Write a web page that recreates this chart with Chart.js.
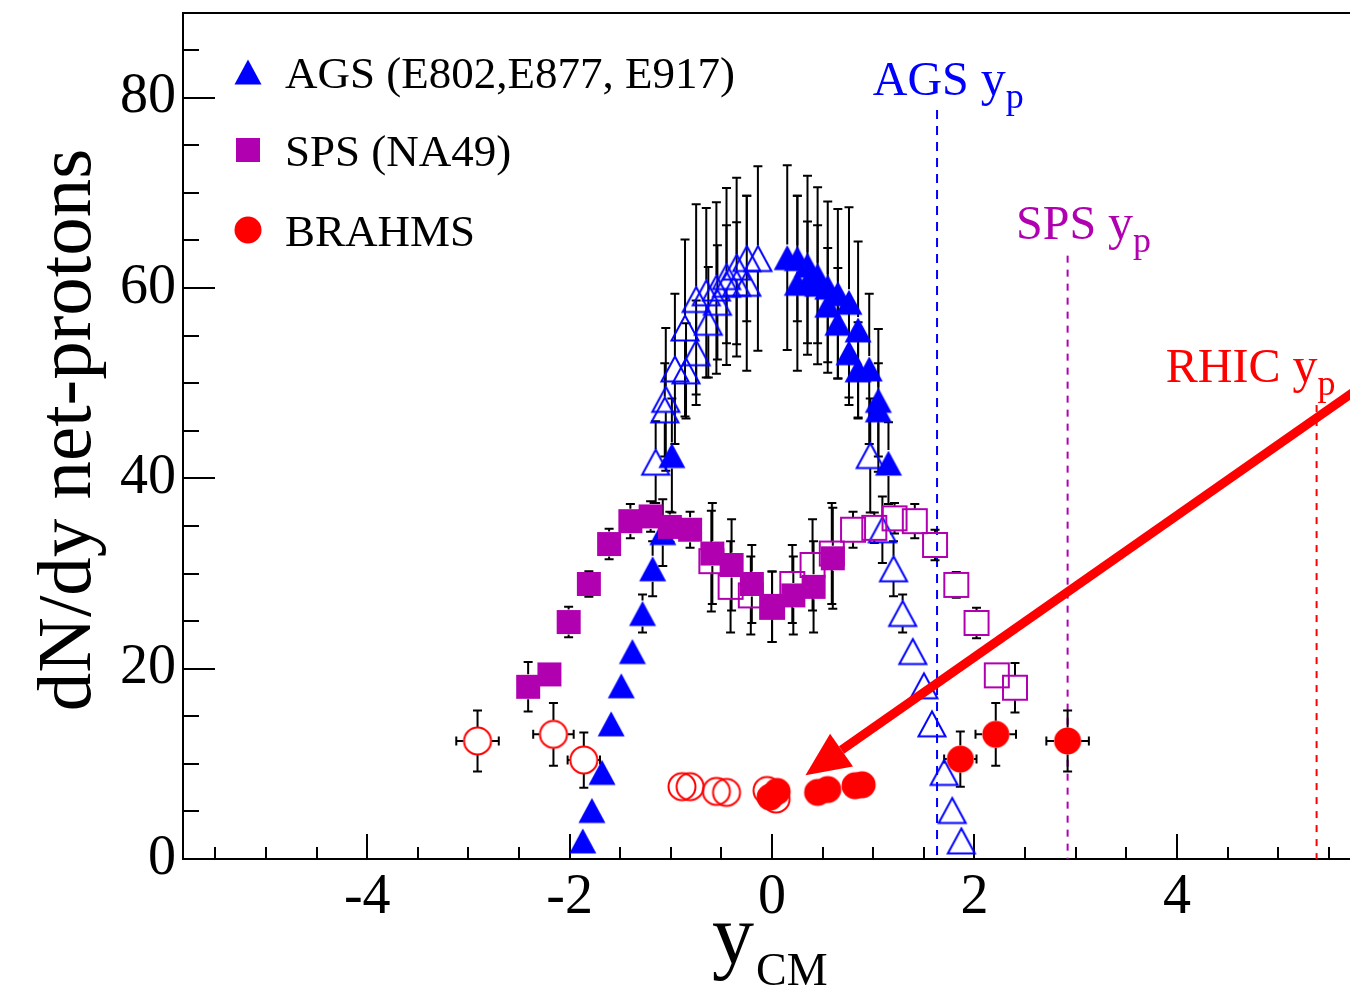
<!DOCTYPE html>
<html>
<head>
<meta charset="utf-8">
<script src="https://cdn.jsdelivr.net/npm/chart.js@4.4.0/dist/chart.umd.min.js"></script>
<style>
  body { margin: 0; background: #fff; }
</style>
</head>
<body>
<canvas id="netProtonChart" width="1350" height="989"></canvas>
<script>
// net-proton rapidity distributions, measured (filled) and reflected about y_CM = 0 (open)
const agsX = [-1.87, -1.78, -1.68, -1.59, -1.49, -1.38, -1.28, -1.18, -1.08, -0.99,
  0.15, 0.25, 0.25, 0.35, 0.35, 0.45, 0.45, 0.55, 0.55, 0.65, 0.65, 0.76, 0.76, 0.85, 0.85, 0.96, 1.05, 1.05, 1.15];
const agsY = [1.9, 5.1, 9.1, 14.2, 18.2, 21.8, 25.8, 30.5, 34.3, 42.4,
  63.2, 63.1, 60.5, 62.4, 60.6, 61.3, 60.4, 60.1, 58.2, 59.4, 56.3, 58.5, 53.2, 55.6, 51.4, 51.5, 48.2, 47.2, 41.6];
const agsErr = [0, 0, 0, 0, 0, 0, 2.0, 2.9, 3.5, 6.0,
  9.7, 6.6, 9.2, 9.4, 6.4, 9.3, 6.2, 9.0, 6.0, 8.9, 5.8, 10.0, 5.5, 9.3, 5.0, 7.9, 7.5, 4.9, 4.3];

const agsReflX = [1.87, 1.78, 1.70, 1.58, 1.50, 1.39, 1.29, 1.20, 1.09, 0.97,
  -0.14, -0.25, -0.25, -0.35, -0.35, -0.45, -0.45, -0.55, -0.54, -0.65, -0.63, -0.75, -0.75, -0.86, -0.85, -0.96, -1.05, -1.06, -1.15];
const agsReflY = [1.9, 5.1, 9.1, 14.2, 18.2, 21.8, 25.8, 30.5, 34.6, 42.4,
  63.1, 63.1, 60.5, 62.2, 60.5, 61.2, 60.4, 60.0, 58.5, 59.5, 56.4, 58.8, 53.2, 55.8, 51.3, 51.5, 48.3, 47.2, 41.7];
const agsReflErr = agsErr;

const spsX = [-2.41, -2.20, -2.01, -1.81, -1.61, -1.40, -1.20, -1.01, -0.81, -0.59, -0.40, -0.20, 0.00, 0.21, 0.41, 0.60];
const spsY = [18.1, 19.4, 24.9, 28.9, 33.1, 35.5, 36.0, 34.9, 34.6, 32.1, 30.9, 28.9, 26.5, 27.7, 28.6, 31.6];
const spsErr = [2.6, 0.8, 1.6, 1.35, 1.6, 1.8, 1.6, 1.6, 1.9, 5.3, 4.8, 4.1, 3.7, 4.1, 4.8, 5.3];

const spsReflX = [2.40, 2.22, 2.02, 1.82, 1.61, 1.41, 1.21, 1.01, 0.80, 0.59, 0.40, 0.20, 0.00, -0.21, -0.41, -0.60];
const spsReflY = [18.0, 19.3, 24.8, 28.8, 33.0, 35.5, 35.8, 34.8, 34.6, 32.1, 30.9, 28.9, 26.5, 27.7, 28.6, 31.3];
const spsReflErr = spsErr;

const brahmsX = [-0.02, 0.05, 0.45, 0.55, 0.82, 0.89, 1.86, 2.21, 2.92];
const brahmsY = [6.5, 7.1, 7.0, 7.3, 7.7, 7.8, 10.5, 13.1, 12.4];
const brahmsErrY = [0, 0, 0, 0, 0, 0, 2.9, 3.3, 3.2];
const brahmsErrX = [0, 0, 0, 0, 0, 0, 0.16, 0.20, 0.21];

const brahmsReflX = [0.04, -0.05, -0.45, -0.55, -0.81, -0.89, -1.86, -2.16, -2.91];
const brahmsReflY = [6.3, 7.2, 7.0, 7.1, 7.6, 7.6, 10.4, 13.1, 12.4];
const brahmsReflErrY = brahmsErrY;
const brahmsReflErrX = brahmsErrX;

// beam rapidities
const beamNames = ['AGS', 'SPS', 'RHIC'];
const beamRapidity = [1.63, 2.92, 5.38];

const legendNames = ['AGS (E802,E877, E917)', 'SPS (NA49)', 'BRAHMS'];
const xTickValues = [-4, -2, 0, 2, 4];
const yTickValues = [0, 20, 40, 60, 80];

const BLUE = '#0000ff', PURPLE = '#b000b0', RED = '#ff0000';
const FONT = "'Liberation Serif', 'Times New Roman', serif";

// dashed y_p markers and their labels (label anchor in axis units)
const beamStyle = [
  { color: BLUE, dash: [9, 7], top: 78.7, labelX: 0.995, labelY: 80.3 },
  { color: PURPLE, dash: [7, 7], top: 63.4, labelX: 2.41, labelY: 65.15 },
  { color: RED, dash: [7, 7], top: 47.7, labelX: 3.89, labelY: 50.1 }
];

function makeMarker(shape, color, filled) {
  const c = document.createElement('canvas');
  c.width = 34; c.height = 34;
  const g = c.getContext('2d');
  const m = 17;
  g.beginPath();
  if (shape === 'triangle') {
    g.moveTo(m, m - 12.5);
    g.lineTo(m + 13.5, m + 12.5);
    g.lineTo(m - 13.5, m + 12.5);
    g.closePath();
  } else if (shape === 'square') {
    g.rect(m - 12, m - 12, 24, 24);
  } else {
    g.arc(m, m, 13.5, 0, Math.PI * 2);
  }
  if (filled) {
    g.fillStyle = color;
    g.fill();
  } else {
    g.strokeStyle = color;
    g.lineWidth = 2;
    g.stroke();
  }
  return c;
}

function series(xs, ys) {
  return xs.map((v, i) => ({ x: v, y: ys[i] }));
}

const markers = {
  agsFilled: makeMarker('triangle', BLUE, true),
  agsOpen: makeMarker('triangle', BLUE, false),
  spsFilled: makeMarker('square', PURPLE, true),
  spsOpen: makeMarker('square', PURPLE, false),
  brahmsFilled: makeMarker('circle', RED, true),
  brahmsOpen: makeMarker('circle', RED, false)
};

// error bars stop at the marker edge, with small caps at the ends
const errorBars = {
  id: 'errorBars',
  beforeDatasetsDraw(chart) {
    const { ctx, chartArea: a, scales: { x, y } } = chart;
    ctx.save();
    ctx.beginPath();
    ctx.rect(a.left, a.top, a.right - a.left, a.bottom - a.top);
    ctx.clip();
    ctx.strokeStyle = '#000';
    ctx.lineWidth = 2;
    const cap = 4.5;
    chart.data.datasets.forEach(ds => {
      const gap = ds.gap;
      ds.data.forEach((p, i) => {
        const px = x.getPixelForValue(p.x);
        const py = y.getPixelForValue(p.y);
        const ey = ds.errY ? ds.errY[i] : 0;
        const ex = ds.errX ? ds.errX[i] : 0;
        ctx.beginPath();
        if (ey > 0) {
          const len = py - y.getPixelForValue(p.y + ey);
          [-1, 1].forEach(s => {
            const end = py + s * len;
            if (len > gap) {
              ctx.moveTo(px, py + s * gap);
              ctx.lineTo(px, end);
            }
            if (len >= gap - 1) {
              ctx.moveTo(px - cap, end);
              ctx.lineTo(px + cap, end);
            }
          });
        }
        if (ex > 0) {
          const len = x.getPixelForValue(p.x + ex) - px;
          [-1, 1].forEach(s => {
            const end = px + s * len;
            if (len > gap) {
              ctx.moveTo(px + s * gap, py);
              ctx.lineTo(end, py);
            }
            if (len >= gap - 1) {
              ctx.moveTo(end, py - cap);
              ctx.lineTo(end, py + cap);
            }
          });
        }
        ctx.stroke();
      });
    });
    ctx.restore();
  }
};

// frame top, inward ticks and the beam rapidity lines
const frameAndLines = {
  id: 'frameAndLines',
  beforeDatasetsDraw(chart) {
    const { ctx, chartArea: a, scales: { x, y } } = chart;
    ctx.save();
    ctx.strokeStyle = '#000';
    ctx.lineWidth = 2;
    ctx.beginPath();
    ctx.moveTo(a.left, a.top);
    ctx.lineTo(a.right, a.top);
    for (let k = -11; k <= 11; k++) {
      const v = k * 0.5;
      if (v <= x.min || v >= x.max) continue;
      const px = Math.round(x.getPixelForValue(v));
      const len = k % 4 === 0 ? 25 : 12;
      ctx.moveTo(px, a.bottom);
      ctx.lineTo(px, a.bottom - len);
    }
    for (let k = 1; k * 5 < y.max; k++) {
      const py = Math.round(y.getPixelForValue(k * 5));
      const len = k % 4 === 0 ? 32 : 16;
      ctx.moveTo(a.left, py);
      ctx.lineTo(a.left + len, py);
    }
    ctx.stroke();

    beamRapidity.forEach((v, i) => {
      const st = beamStyle[i];
      const px = x.getPixelForValue(v);
      ctx.beginPath();
      ctx.setLineDash(st.dash);
      ctx.strokeStyle = st.color;
      ctx.lineWidth = 2;
      ctx.moveTo(px, y.getPixelForValue(st.top));
      ctx.lineTo(px, y.getPixelForValue(0));
      ctx.stroke();
    });
    ctx.restore();
  }
};

// legend, labels, axis titles and the arrow
const overlay = {
  id: 'overlay',
  afterDraw(chart) {
    const { ctx, scales: { x, y } } = chart;
    ctx.save();

    const legendMarkers = [markers.agsFilled, markers.spsFilled, markers.brahmsFilled];
    const rows = [72, 150, 230];
    ctx.fillStyle = '#000';
    ctx.font = '45px ' + FONT;
    ctx.textBaseline = 'alphabetic';
    legendNames.forEach((name, i) => {
      const mk = legendMarkers[i];
      ctx.drawImage(mk, 248 - mk.width / 2, rows[i] - mk.height / 2);
      ctx.fillText(name, 285, rows[i] + 16);
    });

    beamNames.forEach((name, i) => {
      const st = beamStyle[i];
      let px = x.getPixelForValue(st.labelX);
      const py = y.getPixelForValue(st.labelY);
      ctx.fillStyle = st.color;
      ctx.font = '48px ' + FONT;
      ctx.fillText(name + ' ', px, py);
      px += ctx.measureText(name + ' ').width;
      ctx.font = '50px ' + FONT;
      ctx.fillText('y', px, py);
      px += ctx.measureText('y').width;
      ctx.font = '36px ' + FONT;
      ctx.fillText('p', px, py + 13);
    });

    // axis titles
    ctx.fillStyle = '#000';
    ctx.font = '84px ' + FONT;
    ctx.fillText('y', 712, 963);
    const yw = ctx.measureText('y').width;
    ctx.font = '46px ' + FONT;
    ctx.fillText('CM', 714 + yw, 985);

    ctx.save();
    ctx.translate(90, 430);
    ctx.rotate(-Math.PI / 2);
    ctx.textAlign = 'center';
    ctx.font = '77px ' + FONT;
    ctx.fillText('dN/dy net-protons', 0, 0);
    ctx.restore();

    // arrow pointing at the BRAHMS mid-rapidity points
    const x0 = x.getPixelForValue(5.75), y0 = y.getPixelForValue(49.1);
    const x1 = x.getPixelForValue(0.33), y1 = y.getPixelForValue(8.8);
    const ang = Math.atan2(y1 - y0, x1 - x0);
    const headLen = 44, headHalf = 20;
    const bx = x1 - headLen * Math.cos(ang), by = y1 - headLen * Math.sin(ang);
    ctx.strokeStyle = RED;
    ctx.fillStyle = RED;
    ctx.lineWidth = 9;
    ctx.beginPath();
    ctx.moveTo(x0, y0);
    ctx.lineTo(bx, by);
    ctx.stroke();
    ctx.beginPath();
    ctx.moveTo(x1, y1);
    ctx.lineTo(bx + headHalf * Math.sin(ang), by - headHalf * Math.cos(ang));
    ctx.lineTo(bx - headHalf * Math.sin(ang), by + headHalf * Math.cos(ang));
    ctx.closePath();
    ctx.fill();

    ctx.restore();
  }
};

const ctx = document.getElementById('netProtonChart').getContext('2d');
new Chart(ctx, {
  type: 'scatter',
  data: {
    datasets: [
      { label: 'BRAHMS', data: series(brahmsX, brahmsY), pointStyle: markers.brahmsFilled,
        errY: brahmsErrY, errX: brahmsErrX, gap: 13.5, order: 0 },
      { label: 'SPS (NA49)', data: series(spsX, spsY), pointStyle: markers.spsFilled,
        errY: spsErr, gap: 12.5, order: 1 },
      { label: 'SPS reflected', data: series(spsReflX, spsReflY), pointStyle: markers.spsOpen,
        errY: spsReflErr, gap: 12.5, order: 2 },
      { label: 'AGS', data: series(agsX, agsY), pointStyle: markers.agsFilled,
        errY: agsErr, gap: 13, order: 3 },
      { label: 'AGS reflected', data: series(agsReflX, agsReflY), pointStyle: markers.agsOpen,
        errY: agsReflErr, gap: 13, order: 4 },
      { label: 'BRAHMS reflected', data: series(brahmsReflX, brahmsReflY), pointStyle: markers.brahmsOpen,
        errY: brahmsReflErrY, errX: brahmsReflErrX, gap: 14, order: 5 }
    ]
  },
  options: {
    responsive: false,
    animation: false,
    events: [],
    layout: { autoPadding: false, padding: { top: 13, right: 0, bottom: 0, left: 0 } },
    elements: { point: { radius: 14, borderWidth: 0 } },
    plugins: { legend: { display: false }, tooltip: { enabled: false } },
    scales: {
      x: {
        type: 'linear',
        min: -5.82,
        max: 5.71,
        afterBuildTicks: s => { s.ticks = xTickValues.map(v => ({ value: v })); },
        afterFit: s => { s.height = 130; s.paddingLeft = 0; s.paddingRight = 0; },
        grid: { display: false, drawTicks: false },
        border: { display: true, color: '#000', width: 2 },
        ticks: { color: '#000', font: { family: FONT, size: 56 }, padding: 6, maxRotation: 0, autoSkip: false }
      },
      y: {
        type: 'linear',
        min: 0,
        max: 88.9,
        afterBuildTicks: s => { s.ticks = yTickValues.map(v => ({ value: v })); },
        afterFit: s => { s.width = 183; s.paddingTop = 0; s.paddingBottom = 0; },
        grid: { display: false, drawTicks: false },
        border: { display: true, color: '#000', width: 2 },
        ticks: { color: '#000', font: { family: FONT, size: 56 }, padding: 7, autoSkip: false }
      }
    }
  },
  plugins: [frameAndLines, errorBars, overlay]
});
</script>
</body>
</html>
